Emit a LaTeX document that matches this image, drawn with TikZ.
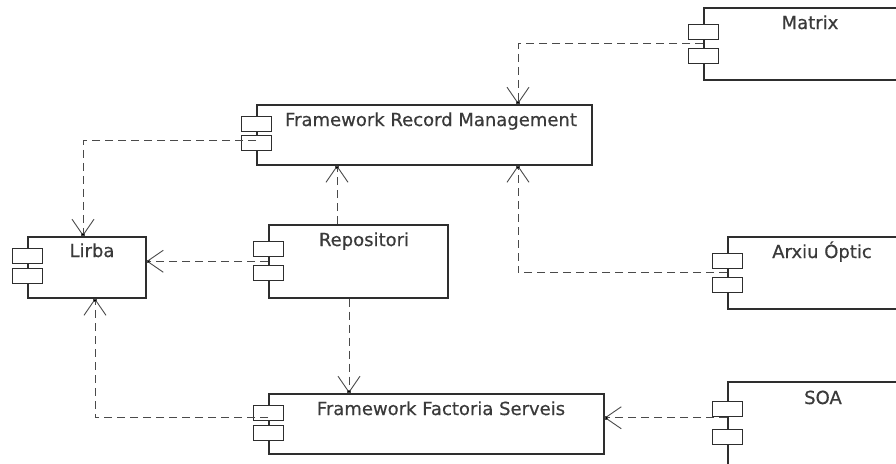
\documentclass[tikz,border=0pt]{standalone}
\usepackage{fontspec}
\setmainfont[FakeBold=0.5]{DejaVu Sans}
\usetikzlibrary{arrows.meta,shadows}
\definecolor{boxline}{HTML}{2E2E2E}
\definecolor{depline}{HTML}{4A4A4A}
\definecolor{txt}{HTML}{3A3A3A}
\begin{document}
\begin{tikzpicture}[x=1pt,y=-1pt,
  compbox/.style={draw=boxline,line width=1.5pt,fill=white,rectangle,anchor=north west,inner sep=0pt,
    drop shadow={shadow xshift=1.2pt,shadow yshift=-1.2pt,opacity=0.35,fill=black!60}},
  portbox/.style={draw=boxline,line width=1.4pt,fill=white,rectangle,anchor=north west,inner sep=0pt,
    minimum width=30pt,minimum height=15pt},
  lbl/.style={anchor=base,inner sep=0pt,text=txt,font=\fontsize{18}{22}\selectfont},
  dep/.style={draw=depline,line width=0.9pt,dash pattern=on 8pt off 5pt,
    -{Straight Barb[length=16pt,width=22pt,line join=miter,sep=-3pt]Square[length=3pt,width=3.5pt,fill=black]}}
]
\useasboundingbox (0,0) rectangle (896,463);
\clip (0,0) rectangle (896,463);

% Matrix
\node[compbox,minimum width=199pt,minimum height=72pt] (matrix) at (703,7) {};
\node[portbox] (matrixp1) at (688,24) {};
\node[portbox] (matrixp2) at (688,48) {};
\node[lbl] (matrixt) at (810,29) {Matrix};

% Framework Record Management
\node[compbox,minimum width=335pt,minimum height=60pt] (frm) at (256,104) {};
\node[portbox] (frmp1) at (241,116) {};
\node[portbox] (frmp2) at (241,135) {};
\node[lbl] (frmt) at (431,126) {Framework Record Management};

% Lirba
\node[compbox,minimum width=118pt,minimum height=61pt] (lirba) at (27,236) {};
\node[portbox] (lirbap1) at (12,248) {};
\node[portbox] (lirbap2) at (12,268) {};
\node[lbl] (lirbat) at (92,257) {Lirba};

% Repositori
\node[compbox,minimum width=179pt,minimum height=73pt] (repo) at (268,224) {};
\node[portbox] (repop1) at (253,241) {};
\node[portbox] (repop2) at (253,265) {};
\node[lbl] (repot) at (364,246) {Repositori};

% Arxiu Optic
\node[compbox,minimum width=175pt,minimum height=72pt] (arxiu) at (727,236) {};
\node[portbox] (arxiup1) at (712,253) {};
\node[portbox] (arxiup2) at (712,277) {};
\node[lbl] (arxiut) at (822,258) {Arxiu Óptic};

% Framework Factoria Serveis
\node[compbox,minimum width=335pt,minimum height=60pt] (ffs) at (268,393) {};
\node[portbox] (ffsp1) at (253,405) {};
\node[portbox] (ffsp2) at (253,425) {};
\node[lbl] (ffst) at (441,415) {Framework Factoria Serveis};

% SOA
\node[compbox,minimum width=177pt,minimum height=85pt] (soa) at (727,381) {};
\node[portbox] (soap1) at (712,401) {};
\node[portbox] (soap2) at (712,429) {};
\node[lbl] (soat) at (823,404) {SOA};

% Dependencies
\draw[dep] (matrix.west) -| ([xshift=262pt]frm.north west);
\draw[dep] ([yshift=-6pt]frm.west) -| ([xshift=56pt]lirba.north west);
\draw[dep] ([xshift=69pt]repo.north west) -- ([xshift=69pt]repo.north west |- frm.south);
\draw[dep] (repo.west) -- (repo.west -| lirba.east);
\draw[dep] ([xshift=81pt]repo.south west) -- ([xshift=81pt]repo.south west |- ffs.north);
\draw[dep] (arxiu.west) -| ([xshift=262pt]frm.south west);
\draw[dep] ([yshift=6pt]ffs.west) -| ([xshift=68pt]lirba.south west);
\draw[dep] ([yshift=6pt]ffs.east -| soa.west) -- ([yshift=6pt]ffs.east);
\end{tikzpicture}
\end{document}
